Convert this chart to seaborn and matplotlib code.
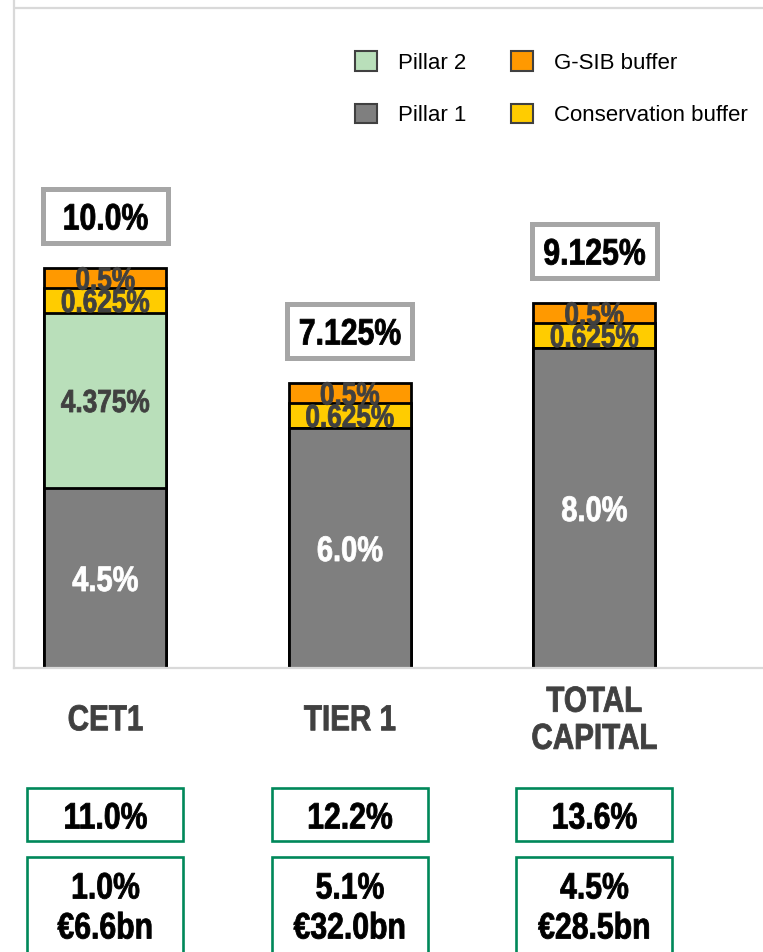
import matplotlib
matplotlib.use("Agg")
import matplotlib.pyplot as plt
import matplotlib.transforms as mtransforms
from matplotlib.patches import Patch, Rectangle
from matplotlib.patheffects import AbstractPathEffect
from matplotlib.transforms import Affine2D
import seaborn as sns

# Capital requirement stack per capital tier (% of RWA)
categories = ["CET1", "TIER 1", "TOTAL\nCAPITAL"]
pillar1 = [4.5, 6.0, 8.0]
pillar2 = [4.375, 0.0, 0.0]
conservation = [0.625, 0.625, 0.625]
gsib = [0.5, 0.5, 0.5]

# Actual ratios and headroom above requirement
actual_ratio = [11.0, 12.2, 13.6]
headroom_pct = [1.0, 5.1, 4.5]
headroom_eur_bn = [6.6, 32.0, 28.5]

series_names = ["Pillar 2", "Pillar 1", "G-SIB buffer", "Conservation buffer"]
col_p1 = "#7F7F7F"
col_p2 = "#B9DFBA"
col_gsib = "#FF9900"
col_cons = "#FFCC00"
green = "#00885A"
frame_grey = "#D9D9D9"


class Narrow(AbstractPathEffect):
    """Draw glyphs horizontally condensed around each line's centre,
    with a thin outline in the fill colour to keep the stems heavy."""

    def __init__(self, sx=0.82, stroke=0.6):
        super().__init__()
        self._sx = sx
        self._stroke = stroke

    def draw_path(self, renderer, gc, tpath, affine, rgbFace=None):
        ext = tpath.get_extents()
        cx = 0.5 * (ext.x0 + ext.x1)
        squeeze = Affine2D().translate(-cx, 0).scale(self._sx, 1).translate(cx, 0)
        gc0 = renderer.new_gc()
        gc0.copy_properties(gc)
        if rgbFace is not None:
            gc0.set_foreground(rgbFace)
        gc0.set_linewidth(self._stroke)
        renderer.draw_path(gc0, tpath, squeeze + affine, rgbFace)
        gc0.restore()


sns.set_style("white")
plt.rcParams["font.family"] = ["Liberation Sans", "DejaVu Sans"]
bold_narrow = dict(fontweight="bold", path_effects=[Narrow()])


def fmt(v):
    s = f"{v:.3f}".rstrip("0")
    if s.endswith("."):
        s += "0"
    return s + "%"


fig = plt.figure(figsize=(7.63, 9.52), dpi=100)
W, H = 763, 952
ax = fig.add_axes([14 / W, (H - 668) / H, 1 - 14 / W, 668 / H])

# cumulative layers, drawn from the tallest down so each segment sits on the one below
c1 = list(pillar1)
c2 = [a + b for a, b in zip(c1, pillar2)]
c3 = [a + b for a, b in zip(c2, conservation)]
c4 = [a + b for a, b in zip(c3, gsib)]

for vals, col in [(c4, col_gsib), (c3, col_cons), (c2, col_p2), (c1, col_p1)]:
    sns.barplot(x=categories, y=vals, order=categories, color=col, saturation=1,
                width=0.5, edgecolor="black", linewidth=2.0, errorbar=None, ax=ax)

ax.set_ylim(0, 16.7)
ax.set_xlim(-0.3735, -0.3735 + 749 / 244.5)
ax.set_xlabel("")
ax.set_ylabel("")
ax.set_yticks([])
for side in ["left", "bottom"]:
    ax.spines[side].set_color(frame_grey)
    ax.spines[side].set_linewidth(1.6)
ax.spines["right"].set_visible(False)
ax.spines["top"].set_visible(False)
ax.axhline(16.5, color=frame_grey, linewidth=1.6, zorder=0)

ax.tick_params(axis="x", length=0, pad=38)
for lbl in ax.get_xticklabels():
    lbl.set_fontsize(26)
    lbl.set_fontweight("bold")
    lbl.set_color("#404040")
    lbl.set_va("center")
    lbl.set_linespacing(1.08)
    lbl.set_path_effects([Narrow()])

# segment labels
for i in range(len(categories)):
    base = 0.0
    for vals, color, size in [(pillar1, "white", 25.5), (pillar2, "#404040", 23),
                              (conservation, "#404040", 23), (gsib, "#404040", 23)]:
        v = vals[i]
        if v > 0:
            ax.text(i, base + v / 2, fmt(v), ha="center", va="center_baseline",
                    fontsize=size, color=color, zorder=5, **bold_narrow)
        base += v

# total requirement boxes above each bar
box_w, box_h, gap = 0.51, 1.36, 0.62
for i, tot in enumerate(c4):
    ax.add_patch(Rectangle((i - box_w / 2, tot + gap), box_w, box_h,
                           facecolor="white", edgecolor="#A6A6A6", linewidth=3.6,
                           zorder=4, clip_on=False))
    ax.text(i, tot + gap + box_h / 2, fmt(tot), ha="center", va="center_baseline",
            fontsize=26.5, color="black", zorder=6, **bold_narrow)

# actual ratio and headroom boxes below the axis
trans = mtransforms.blended_transform_factory(ax.transData, fig.transFigure)
gw = 156 / 244.5
for i in range(len(categories)):
    ax.add_patch(Rectangle((i - gw / 2, (H - 841) / H), gw, 53 / H, transform=trans,
                           facecolor="white", edgecolor=green, linewidth=1.9,
                           clip_on=False))
    ax.text(i, (H - 815) / H, f"{actual_ratio[i]:.1f}%", transform=trans,
            ha="center", va="center_baseline", fontsize=26.5, color="black",
            **bold_narrow)
    ax.add_patch(Rectangle((i - gw / 2, -0.05), gw, (H - 857) / H + 0.05,
                           transform=trans, facecolor="white", edgecolor=green,
                           linewidth=1.9, clip_on=False))
    ax.text(i, (H - 885) / H, f"{headroom_pct[i]:.1f}%", transform=trans,
            ha="center", va="center_baseline", fontsize=26.5, color="black",
            **bold_narrow)
    ax.text(i, (H - 925) / H, f"€{headroom_eur_bn[i]:.1f}bn", transform=trans,
            ha="center", va="center_baseline", fontsize=26.5, color="black",
            **bold_narrow)

handles = [Patch(facecolor=c, edgecolor="#404040", linewidth=1.5)
           for c in [col_p2, col_p1, col_gsib, col_cons]]
leg = fig.legend(handles, series_names, loc="upper left",
                 bbox_to_anchor=(355 / W, 1 - 51 / H), ncol=2, frameon=False,
                 prop={"family": ["Liberation Sans", "DejaVu Sans"], "size": 16},
                 handlelength=1.0, handleheight=1.0, handletextpad=0.95,
                 columnspacing=2.0, labelspacing=1.35, borderpad=0, borderaxespad=0)
for t in leg.get_texts():
    t.set_color("black")

fig.savefig("out.png", dpi=100)
